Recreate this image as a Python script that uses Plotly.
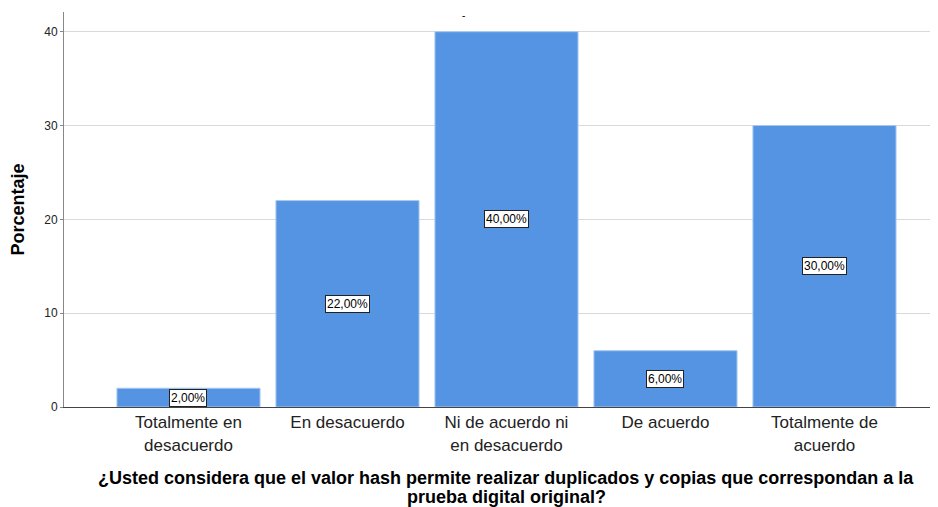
import plotly.graph_objects as go

categories = ["Totalmente en<br>desacuerdo", "En desacuerdo", "Ni de acuerdo ni<br>en desacuerdo",
              "De acuerdo", "Totalmente de<br>acuerdo"]
values = [2, 22, 40, 6, 30]
labels = ["2,00%", "22,00%", "40,00%", "6,00%", "30,00%"]
yticks = [0, 10, 20, 30, 40]
xtitle_lines = ["¿Usted considera que el valor hash permite realizar duplicados y copias que correspondan a la",
                "prueba digital original?"]

FONT = "Arial, Liberation Sans, sans-serif"
OFF = 8  # page body margin
W, H = 938 - OFF, 507 - OFF
PLOT_LEFT, PLOT_TOP, PLOT_BOTTOM = 64 - OFF, 12 - OFF, 407 - OFF
PH = PLOT_BOTTOM - PLOT_TOP
PW = W - PLOT_LEFT

def paper_y(win_px):
    return (PLOT_BOTTOM - (win_px - OFF)) / PH

def paper_x(win_px):
    return ((win_px - OFF) - PLOT_LEFT) / PW

fig = go.Figure()
fig.add_trace(go.Bar(
    x=list(range(len(categories))), y=values, width=0.9,
    marker=dict(color="#5494E3", line=dict(color="#A9C8F0", width=1)),
    hoverinfo="skip",
))

for i, (v, t) in enumerate(zip(values, labels)):
    fig.add_annotation(x=i, y=v / 2, text=t, showarrow=False,
                       font=dict(family=FONT, size=12, color="black"),
                       bgcolor="white", bordercolor="#222", borderwidth=1, borderpad=1)

for line, py in zip(xtitle_lines, [478, 497]):
    fig.add_annotation(xref="paper", yref="paper", x=paper_x(506), y=paper_y(py), yanchor="middle",
                       text="<b>" + line + "</b>", showarrow=False,
                       font=dict(family=FONT, size=18, color="black"))

fig.add_annotation(xref="paper", yref="paper", x=paper_x(463), y=paper_y(OFF), yanchor="top",
                   text="-", showarrow=False, font=dict(family=FONT, size=10, color="black"))

fig.update_layout(
    width=W, height=H,
    margin=dict(l=PLOT_LEFT, r=0, t=PLOT_TOP, b=H - PLOT_BOTTOM),
    plot_bgcolor="white", paper_bgcolor="white",
    showlegend=False, bargap=0.1,
    font=dict(family=FONT, color="black"),
    xaxis=dict(range=[-0.783, 4.714], tickvals=list(range(len(categories))), ticktext=categories,
               showline=True, linecolor="#444", linewidth=1, showgrid=False, zeroline=False,
               ticks="", automargin=False, tickfont=dict(size=17, color="#222")),
    yaxis=dict(range=[0, 42.1], tickvals=yticks, showgrid=True, gridcolor="#D9D9D9", gridwidth=1,
               showline=True, linecolor="#888", linewidth=1, zeroline=False,
               ticks="outside", ticklen=3, tickcolor="#888", automargin=False,
               tickfont=dict(size=12, color="#222"),
               title=dict(text="<b>Porcentaje</b>", font=dict(size=18, color="black"), standoff=14)),
)

fig.write_html("out.html")
